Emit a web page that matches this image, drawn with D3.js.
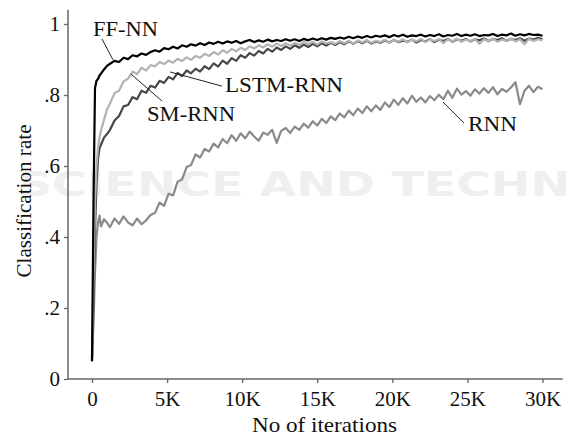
<!DOCTYPE html>
<html>
<head>
<meta charset="utf-8">
<script src="https://cdn.jsdelivr.net/npm/d3@7"></script>
<style>
  body { margin: 0; background: #fff; }
  svg { display: block; font-family: "Liberation Serif", "Times New Roman", serif; }
</style>
</head>
<body>
<div id="vis"></div>
<script>
// iterations: dense at the start, then every 300
var earlyIters = [0, 100, 200, 300, 400, 500, 600, 800, 1000];
var tailIters = d3.range(1200, 30001, 300);
var iters = earlyIters.concat(tailIters);

var ffnn = [0.05, 0.50, 0.82, 0.84, 0.845, 0.855, 0.86, 0.872, 0.882,
  0.888, 0.896, 0.893, 0.905, 0.901, 0.912, 0.909, 0.917, 0.913, 0.921,
  0.926, 0.922, 0.932, 0.929, 0.936, 0.931, 0.940, 0.936, 0.943, 0.939,
  0.946, 0.941, 0.948, 0.944, 0.950, 0.945, 0.951, 0.947, 0.952, 0.946,
  0.951, 0.955, 0.949, 0.954, 0.950, 0.956, 0.951, 0.955, 0.952, 0.957,
  0.953, 0.957, 0.952, 0.958, 0.954, 0.959, 0.955, 0.960, 0.956, 0.961,
  0.958, 0.962, 0.959, 0.964, 0.960, 0.965, 0.961, 0.966, 0.962, 0.967,
  0.964, 0.968, 0.963, 0.969, 0.965, 0.970, 0.964, 0.968, 0.966, 0.970,
  0.965, 0.969, 0.966, 0.971, 0.965, 0.969, 0.967, 0.972, 0.966, 0.970,
  0.967, 0.971, 0.966, 0.969, 0.968, 0.972, 0.966, 0.970, 0.968, 0.973,
  0.967, 0.971, 0.968, 0.972, 0.969, 0.970, 0.967];

var smrnn = [0.06, 0.30, 0.50, 0.60, 0.65, 0.68, 0.70, 0.73, 0.76,
  0.776, 0.805, 0.812, 0.838, 0.846, 0.866, 0.859, 0.877, 0.869, 0.884,
  0.881, 0.893, 0.887, 0.897, 0.891, 0.902, 0.896, 0.906, 0.899, 0.910,
  0.905, 0.916, 0.910, 0.921, 0.914, 0.926, 0.919, 0.930, 0.923, 0.933,
  0.927, 0.937, 0.931, 0.940, 0.934, 0.943, 0.936, 0.945, 0.938, 0.946,
  0.939, 0.947, 0.941, 0.949, 0.943, 0.950, 0.942, 0.951, 0.945, 0.949,
  0.944, 0.952, 0.946, 0.953, 0.945, 0.954, 0.948, 0.955, 0.947, 0.953,
  0.949, 0.956, 0.947, 0.955, 0.950, 0.957, 0.948, 0.956, 0.951, 0.958,
  0.949, 0.956, 0.952, 0.958, 0.946, 0.957, 0.951, 0.959, 0.950, 0.956,
  0.952, 0.958, 0.944, 0.957, 0.951, 0.959, 0.950, 0.956, 0.953, 0.959,
  0.951, 0.957, 0.943, 0.958, 0.952, 0.957, 0.954];

var lstmrnn = [0.06, 0.22, 0.42, 0.55, 0.62, 0.65, 0.66, 0.68, 0.69,
  0.702, 0.728, 0.741, 0.768, 0.772, 0.794, 0.788, 0.812, 0.806, 0.826,
  0.821, 0.840, 0.834, 0.851, 0.844, 0.862, 0.853, 0.869, 0.861, 0.874,
  0.866, 0.881, 0.873, 0.889, 0.880, 0.897, 0.888, 0.904, 0.896, 0.912,
  0.905, 0.918, 0.911, 0.924, 0.917, 0.930, 0.922, 0.934, 0.927, 0.937,
  0.930, 0.940, 0.933, 0.942, 0.935, 0.944, 0.937, 0.946, 0.939, 0.947,
  0.941, 0.949, 0.943, 0.951, 0.944, 0.952, 0.946, 0.953, 0.945, 0.951,
  0.947, 0.954, 0.948, 0.955, 0.949, 0.953, 0.950, 0.956, 0.948, 0.955,
  0.951, 0.957, 0.949, 0.956, 0.952, 0.958, 0.950, 0.957, 0.953, 0.958,
  0.951, 0.957, 0.954, 0.959, 0.952, 0.958, 0.955, 0.960, 0.953, 0.958,
  0.955, 0.960, 0.953, 0.959, 0.956, 0.961, 0.957];

var rnn = [0.05, 0.16, 0.30, 0.40, 0.44, 0.46, 0.43, 0.45, 0.44,
  0.428, 0.452, 0.437, 0.458, 0.441, 0.433, 0.452, 0.436, 0.447, 0.462,
  0.468, 0.497, 0.488, 0.522, 0.517, 0.556, 0.562, 0.597, 0.603, 0.633,
  0.624, 0.648, 0.641, 0.663, 0.652, 0.676, 0.664, 0.687, 0.671, 0.692,
  0.678, 0.697, 0.683, 0.671, 0.694, 0.688, 0.702, 0.665, 0.699, 0.707,
  0.693, 0.711, 0.702, 0.719, 0.708, 0.726, 0.714, 0.733, 0.721, 0.740,
  0.729, 0.748, 0.737, 0.756, 0.743, 0.762, 0.749, 0.768, 0.754, 0.771,
  0.758, 0.779, 0.766, 0.787, 0.772, 0.791, 0.776, 0.798, 0.781, 0.793,
  0.779, 0.797, 0.785, 0.801, 0.788, 0.812, 0.792, 0.818, 0.801, 0.811,
  0.798, 0.816, 0.804, 0.819, 0.806, 0.822, 0.802, 0.817, 0.809, 0.821,
  0.836, 0.774, 0.812, 0.826, 0.808, 0.823, 0.816];

var yTicks = [0, 0.2, 0.4, 0.6, 0.8, 1];
var xTicks = [0, 5000, 10000, 15000, 20000, 25000, 30000];

var series = [
  {name: "RNN", values: rnn, color: "#8a8a8a"},
  {name: "LSTM-RNN", values: lstmrnn, color: "#474747"},
  {name: "SM-RNN", values: smrnn, color: "#b3b3b3"},
  {name: "FF-NN", values: ffnn, color: "#000000"}
];

// label text, label anchor, leader line from -> to (all in data units)
var notes = [
  {name: "FF-NN", at: [67, 0.966], w: 65, from: [666, 0.958], to: [1398, 0.899]},
  {name: "LSTM-RNN", at: [8857, 0.808], w: 118, from: [8657, 0.825], to: [5194, 0.865]},
  {name: "SM-RNN", at: [3662, 0.727], w: 88, from: [4661, 0.783], to: [2597, 0.859]},
  {name: "RNN", at: [25038, 0.699], w: 49, from: [24772, 0.721], to: [23373, 0.780]}
];

var W = 571, H = 438;
var serif = "'Liberation Serif', 'Times New Roman', serif";
var x = d3.scaleLinear().domain([0, 30000]).range([92, 542.5]);
var y = d3.scaleLinear().domain([0, 1]).range([379, 24]);

var svg = d3.select("#vis").append("svg")
  .attr("width", W)
  .attr("height", H);

// faint publisher watermark behind the plot
svg.append("text")
  .attr("x", 18).attr("y", 196)
  .attr("textLength", 552).attr("lengthAdjust", "spacingAndGlyphs")
  .style("font-family", "'DejaVu Sans', sans-serif").style("font-weight", "bold")
  .style("font-size", "34px").style("fill", "#efefef")
  .text("SCIENCE AND TECHN");

// axes
var yAxis = svg.append("g")
  .attr("transform", "translate(68,0)")
  .call(d3.axisLeft(y).tickValues(yTicks).tickSize(4).tickPadding(4)
    .tickFormat(function(d) { return d === 0 ? "0" : d === 1 ? "1" : d3.format(".1f")(d).replace(/^0/, ""); }));
var xAxis = svg.append("g")
  .attr("transform", "translate(0,379)")
  .call(d3.axisBottom(x).tickValues(xTicks).tickSize(4).tickPadding(8)
    .tickFormat(function(d) { return d === 0 ? "0" : (d / 1000) + "K"; }));

[yAxis, xAxis].forEach(function(g) {
  g.select(".domain").remove();
  g.selectAll("line").attr("stroke", "#666").attr("stroke-width", 1.3);
  g.selectAll("text").attr("fill", "#111")
    .style("font-family", serif).style("font-size", "21px");
});

svg.append("line")
  .attr("x1", 68).attr("x2", 68).attr("y1", y(0)).attr("y2", y(1.04))
  .attr("stroke", "#666").attr("stroke-width", 1.5);
svg.append("line")
  .attr("x1", 68).attr("x2", x(31350)).attr("y1", y(0)).attr("y2", y(0))
  .attr("stroke", "#666").attr("stroke-width", 1.5);

// axis titles
svg.append("text")
  .attr("transform", "translate(31,201) rotate(-90)")
  .attr("text-anchor", "middle")
  .attr("textLength", 153).attr("lengthAdjust", "spacingAndGlyphs")
  .style("font-family", serif).style("font-size", "21px").attr("fill", "#111")
  .text("Classification rate");
svg.append("text")
  .attr("x", 252).attr("y", 432)
  .attr("textLength", 145).attr("lengthAdjust", "spacingAndGlyphs")
  .style("font-family", serif).style("font-size", "21px").attr("fill", "#111")
  .text("No of iterations");

// the curves
var line = d3.line()
  .x(function(d) { return x(d[0]); })
  .y(function(d) { return y(d[1]); });

series.forEach(function(s) {
  svg.append("path")
    .datum(iters.map(function(it, i) { return [it, s.values[i]]; }))
    .attr("d", line)
    .attr("fill", "none")
    .attr("stroke", s.color)
    .attr("stroke-width", 2.2)
    .attr("stroke-linejoin", "round");
});

// labels with leader lines
notes.forEach(function(n) {
  svg.append("line")
    .attr("x1", x(n.from[0])).attr("y1", y(n.from[1]))
    .attr("x2", x(n.to[0])).attr("y2", y(n.to[1]))
    .attr("stroke", "#222").attr("stroke-width", 1);
  svg.append("text")
    .attr("x", x(n.at[0])).attr("y", y(n.at[1]))
    .attr("textLength", n.w).attr("lengthAdjust", "spacingAndGlyphs")
    .style("font-family", serif).style("font-size", "22px").attr("fill", "#111")
    .text(n.name);
});
</script>
</body>
</html>
